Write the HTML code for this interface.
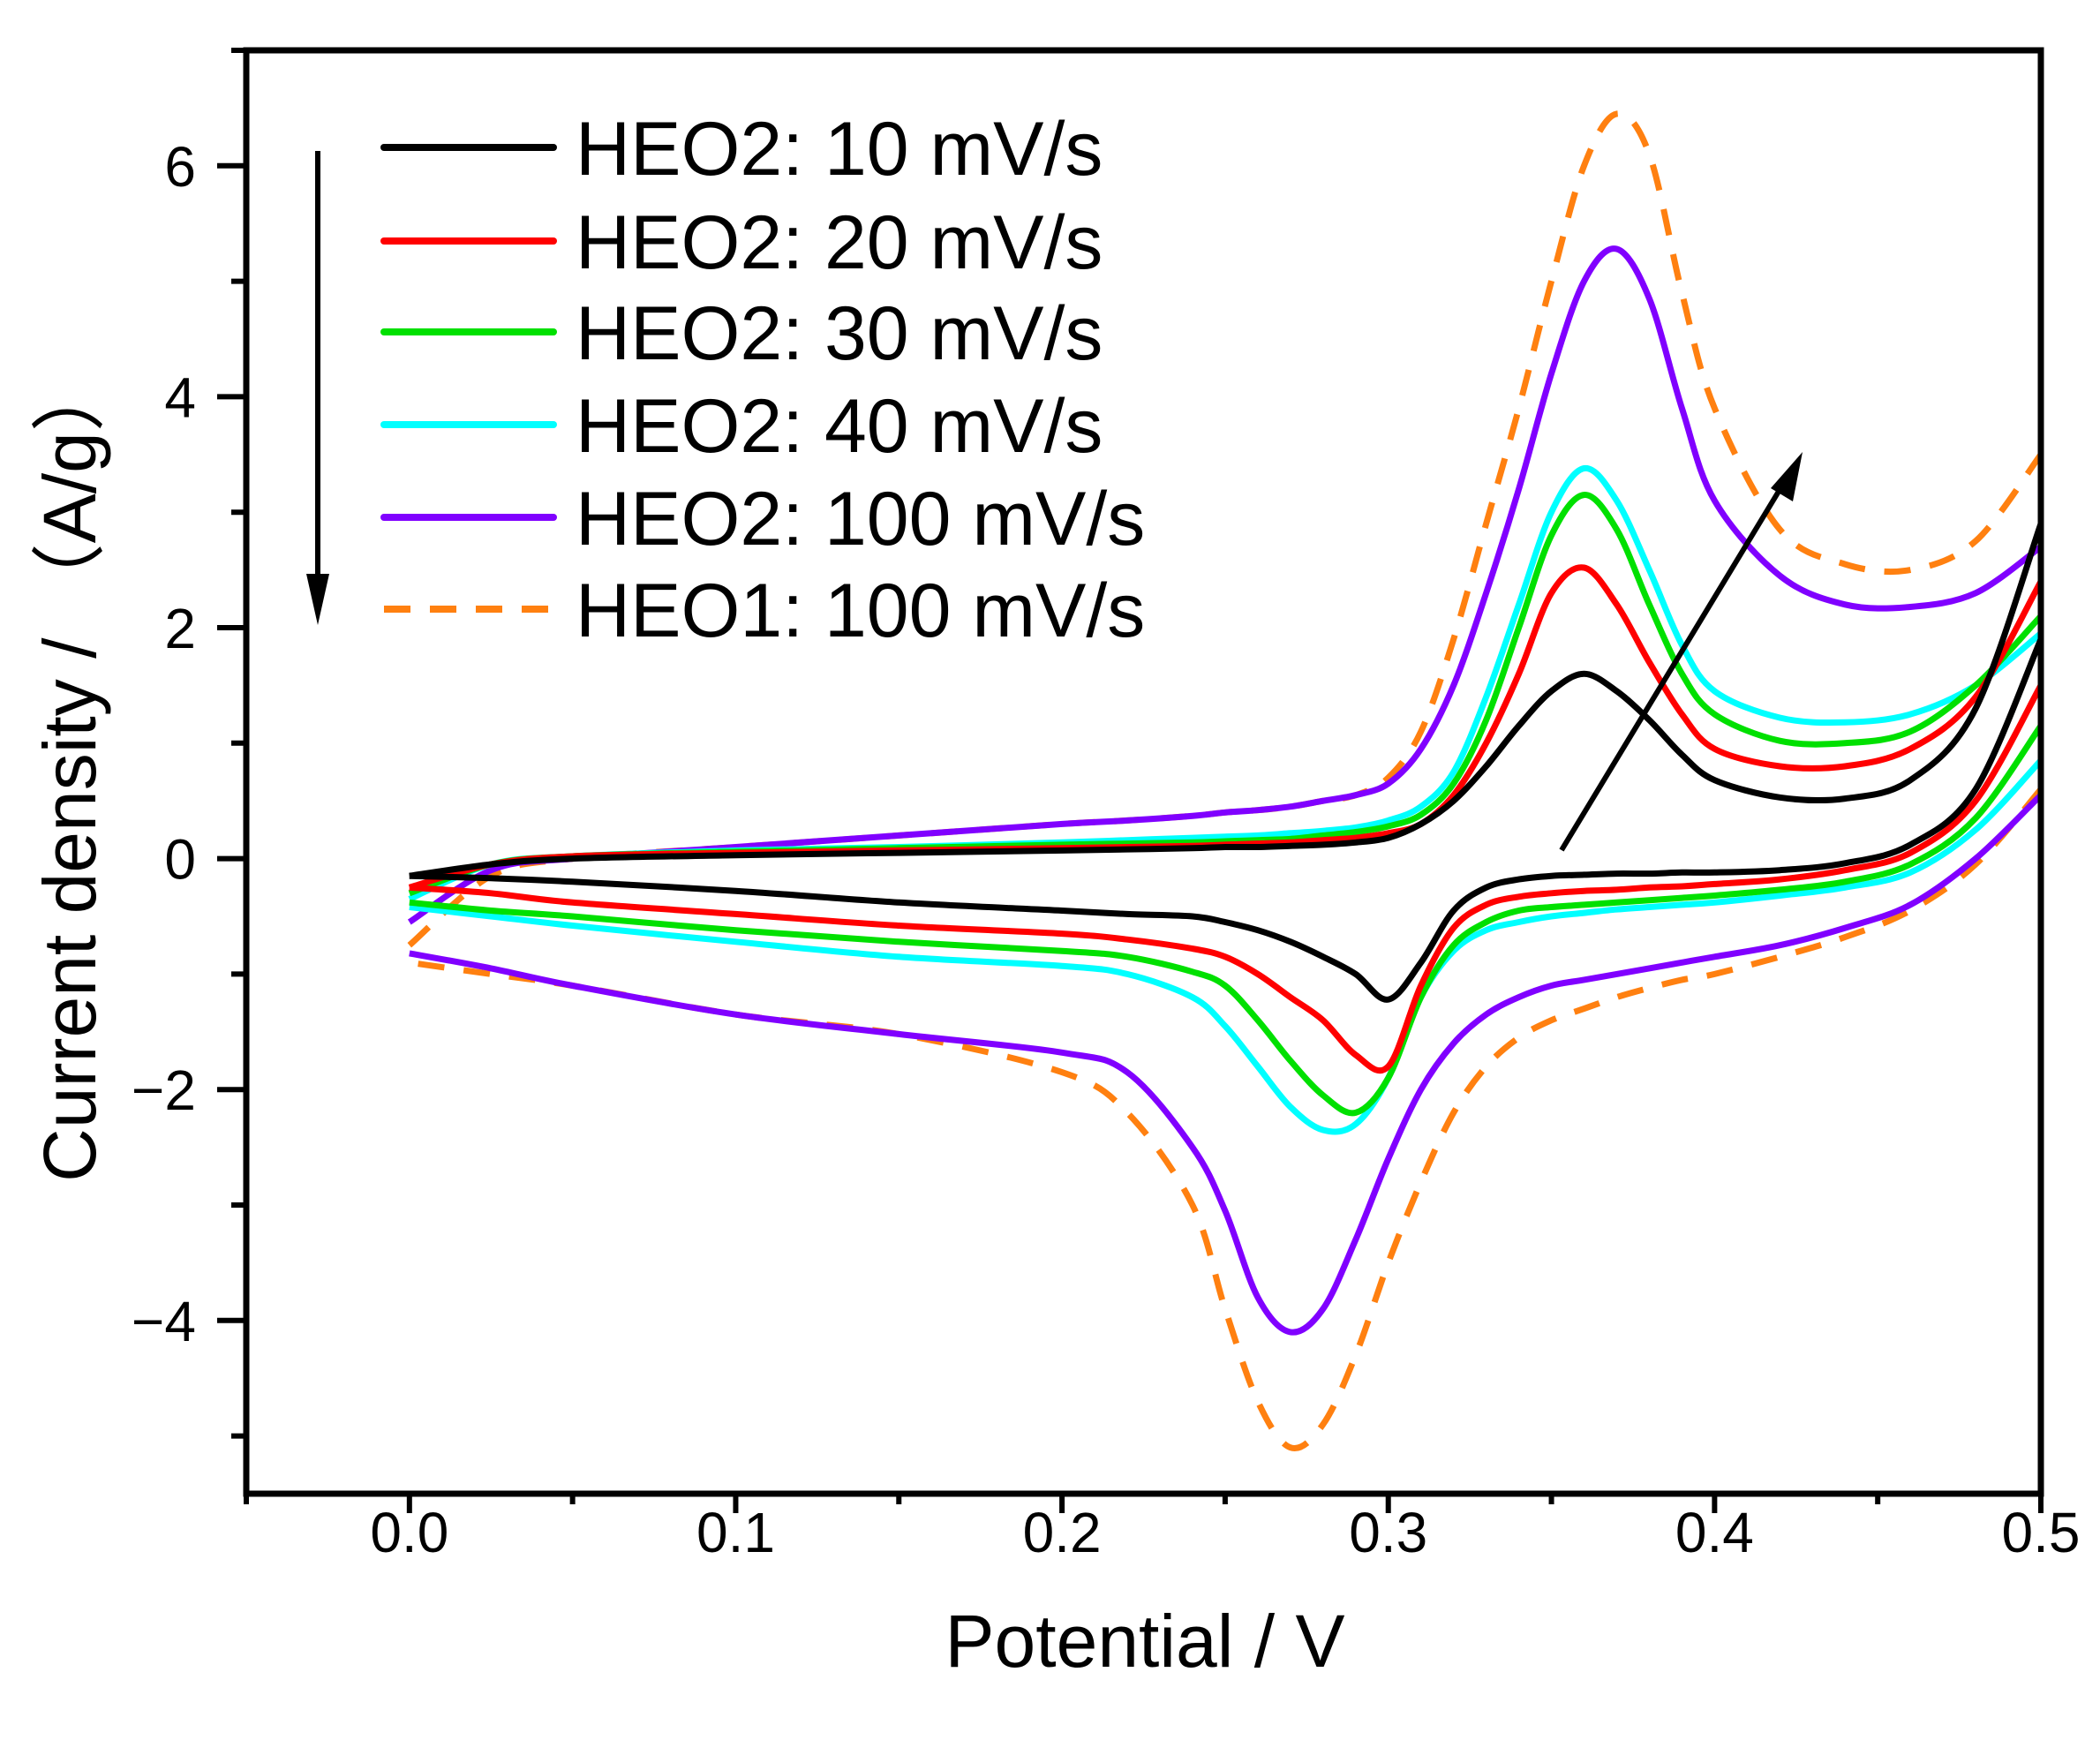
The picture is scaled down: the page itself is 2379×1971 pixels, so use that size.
<!DOCTYPE html>
<html><head><meta charset="utf-8"><style>
html,body{margin:0;padding:0;background:#fff}
svg{display:block}
text{font-family:"Liberation Sans",Arial,sans-serif;fill:#000}
</style></head><body>
<svg id="chart" width="2379" height="1971" viewBox="0 0 2379 1971" xmlns="http://www.w3.org/2000/svg">
<g id="plot"></g>
<g id="axes"></g>
<g id="legend"></g>
</svg>
<script>
const potentials=[0,0.025,0.05,0.1,0.15,0.2,0.22,0.24,0.25,0.26,0.27,0.28,0.29,0.3,0.31,0.32,0.33,0.34,0.35,0.36,0.37,0.38,0.39,0.4,0.42,0.44,0.46,0.48,0.5];
const seriesNames=["HEO2: 10 mV/s","HEO2: 20 mV/s","HEO2: 30 mV/s","HEO2: 40 mV/s","HEO2: 100 mV/s","HEO1: 100 mV/s"];
const seriesColors=["#000000","#ff0000","#00e000","#00ffff","#8000ff","#ff8010"];
const upper10=[-0.15,-0.05,0,0.03,0.05,0.07,0.08,0.09,0.1,0.1,0.11,0.12,0.14,0.18,0.3,0.5,0.8,1.15,1.45,1.6,1.45,1.2,0.9,0.68,0.53,0.52,0.68,1.3,2.9];
const upper20=[-0.25,-0.05,0.02,0.05,0.07,0.09,0.1,0.11,0.12,0.13,0.14,0.16,0.18,0.22,0.3,0.55,1.0,1.6,2.3,2.52,2.2,1.7,1.25,0.95,0.8,0.8,0.95,1.4,2.4];
const upper30=[-0.3,-0.05,0.02,0.06,0.09,0.12,0.13,0.14,0.15,0.16,0.17,0.2,0.23,0.28,0.38,0.65,1.2,2.0,2.8,3.15,2.85,2.2,1.6,1.25,1.02,1.0,1.1,1.5,2.1];
const upper40=[-0.35,-0.05,0.02,0.07,0.1,0.14,0.16,0.18,0.19,0.2,0.22,0.24,0.27,0.33,0.45,0.75,1.4,2.2,3.0,3.38,3.1,2.5,1.85,1.45,1.22,1.18,1.25,1.5,1.95];
const upper100=[-0.55,-0.1,0.0,0.1,0.2,0.3,0.33,0.37,0.4,0.42,0.45,0.5,0.55,0.65,0.95,1.5,2.3,3.2,4.2,5.0,5.28,4.85,3.9,3.1,2.45,2.2,2.18,2.3,2.7];
const upperHEO1=[-0.75,-0.15,0.0,0.1,0.2,0.3,0.33,0.37,0.4,0.42,0.45,0.5,0.55,0.7,1.1,1.9,2.9,3.9,5.0,6.0,6.45,6.1,4.9,3.9,2.85,2.55,2.5,2.75,3.5];
const lower10=[-0.15,-0.17,-0.2,-0.28,-0.38,-0.45,-0.48,-0.5,-0.55,-0.62,-0.72,-0.85,-1.0,-1.22,-0.9,-0.45,-0.25,-0.18,-0.15,-0.14,-0.13,-0.13,-0.12,-0.12,-0.1,-0.04,0.12,0.6,1.9];
const lower20=[-0.25,-0.3,-0.38,-0.48,-0.58,-0.65,-0.7,-0.78,-0.85,-1.0,-1.2,-1.4,-1.7,-1.8,-1.1,-0.6,-0.4,-0.33,-0.3,-0.28,-0.27,-0.25,-0.24,-0.22,-0.18,-0.1,0.05,0.5,1.5];
const lower30=[-0.38,-0.45,-0.5,-0.62,-0.72,-0.8,-0.85,-0.98,-1.1,-1.4,-1.75,-2.05,-2.2,-1.9,-1.2,-0.75,-0.55,-0.45,-0.42,-0.4,-0.38,-0.36,-0.34,-0.32,-0.27,-0.2,-0.05,0.35,1.15];
const lower40=[-0.42,-0.5,-0.58,-0.72,-0.85,-0.93,-1.0,-1.2,-1.45,-1.8,-2.15,-2.35,-2.3,-1.9,-1.2,-0.8,-0.62,-0.55,-0.5,-0.47,-0.44,-0.42,-0.4,-0.38,-0.32,-0.25,-0.12,0.25,0.85];
const lower100=[-0.82,-0.95,-1.1,-1.35,-1.52,-1.68,-1.85,-2.5,-3.05,-3.8,-4.1,-3.9,-3.3,-2.6,-2.0,-1.6,-1.35,-1.2,-1.1,-1.05,-1.0,-0.95,-0.9,-0.85,-0.75,-0.6,-0.4,0.0,0.55];
const lowerHEO1=[-0.9,-1.0,-1.1,-1.35,-1.52,-1.85,-2.2,-3.0,-3.9,-4.7,-5.1,-4.9,-4.3,-3.5,-2.8,-2.2,-1.8,-1.55,-1.4,-1.3,-1.2,-1.12,-1.05,-1.0,-0.85,-0.68,-0.45,-0.05,0.6];
const xTicks=[0.0,0.1,0.2,0.3,0.4,0.5];
const xTickLabels=["0.0","0.1","0.2","0.3","0.4","0.5"];
const yTicks=[-4,-2,0,2,4,6];
const yTickLabels=["\u22124","\u22122","0","2","4","6"];

const NS="http://www.w3.org/2000/svg";
const X0=279,X1=2312,Y0=57,Y1=1692;
const xmin=-0.05,xmax=0.5,ymin=-5.5,ymax=7;
const xs=v=>X0+(v-xmin)/(xmax-xmin)*(X1-X0);
const ys=v=>Y1-(v-ymin)/(ymax-ymin)*(Y1-Y0);
function mk(tag,attrs,parent){const e=document.createElementNS(NS,tag);for(const k in attrs)e.setAttribute(k,attrs[k]);parent.appendChild(e);return e;}
function smooth(pts){let d="M"+pts[0][0].toFixed(1)+","+pts[0][1].toFixed(1);
 for(let i=0;i<pts.length-1;i++){const p0=pts[Math.max(0,i-1)],p1=pts[i],p2=pts[i+1],p3=pts[Math.min(pts.length-1,i+2)];
 const c1=[p1[0]+(p2[0]-p0[0])/6,p1[1]+(p2[1]-p0[1])/6],c2=[p2[0]-(p3[0]-p1[0])/6,p2[1]-(p3[1]-p1[1])/6];
 d+="C"+c1[0].toFixed(1)+","+c1[1].toFixed(1)+" "+c2[0].toFixed(1)+","+c2[1].toFixed(1)+" "+p2[0].toFixed(1)+","+p2[1].toFixed(1);}
 return d;}
const plot=document.getElementById('plot'),axes=document.getElementById('axes'),legend=document.getElementById('legend');
const uppers=[upper10,upper20,upper30,upper40,upper100,upperHEO1];
const lowers=[lower10,lower20,lower30,lower40,lower100,lowerHEO1];
const order=[5,4,3,2,1,0];
order.forEach(i=>{
 const up=potentials.map((e,k)=>[xs(e),ys(uppers[i][k])]);
 const lo=potentials.map((e,k)=>[xs(e),ys(lowers[i][k])]).reverse();
 const a={d:smooth(up),fill:"none",stroke:seriesColors[i],"stroke-width":7,"stroke-linejoin":"round"};
 if(i===5)a["stroke-dasharray"]="30,22";
 const p1=mk('path',a,plot);
 
 
 a.d=smooth(lo);
 const p2=mk('path',a,plot);
 
 
});
const fr=mk('rect',{x:X0,y:Y0,width:X1-X0,height:Y1-Y0,fill:"none",stroke:"#000","stroke-width":7},axes);


for(let v=-0.05;v<=0.5001;v+=0.05){const x=xs(v);const major=Math.abs(Math.round(v*10)-v*10)<1e-6;
 const t=mk('line',{x1:x,x2:x,y1:Y1,y2:Y1+(major?22:12),stroke:"#000","stroke-width":6},axes);
 
 }
xTicks.forEach((v,i)=>{const t=mk('text',{x:xs(v),y:1758,"font-size":64,"text-anchor":"middle"},axes);t.textContent=xTickLabels[i];
 
 });
for(let v=-5;v<=7;v+=1){const major=v%2===0;
 const t=mk('line',{x1:X0,x2:X0-(major?33:17),y1:ys(v),y2:ys(v),stroke:"#000","stroke-width":6},axes);
 
 }
yTicks.forEach((v,i)=>{const t=mk('text',{x:222,y:ys(v)+23,"font-size":64,"text-anchor":"end"},axes);t.textContent=yTickLabels[i];
 
 });
const xt=mk('text',{x:1297,y:1888,"font-size":84,"text-anchor":"middle"},axes);xt.textContent="Potential / V";


const yt=mk('text',{x:0,y:0,"font-size":84,"text-anchor":"middle",transform:"translate(108,872) rotate(-90)"},axes);
yt.style.fontFamily='"Liberation Sans","Noto Sans CJK SC",sans-serif';
yt.textContent="Current density / \uFF08A/g\uFF09";


const rowY=[167,273,376,481,586,690];
seriesNames.forEach((n,i)=>{
 const a={x1:435,x2:627,y1:rowY[i],y2:rowY[i],stroke:seriesColors[i],"stroke-width":8,"stroke-linecap":"round"};
 if(i===5){a["stroke-dasharray"]="30,22";a["stroke-linecap"]="butt";}
 const l=mk('line',a,legend);
 
 
 const t=mk('text',{x:652,y:rowY[i]+31,"font-size":86},legend);t.textContent=n;
 
 
});
const ar1=mk('line',{x1:360,y1:171,x2:360,y2:660,stroke:"#000","stroke-width":6},axes);


const ah1=mk('polygon',{points:"347,650 373,650 360,708",fill:"#000"},axes);


const ar2=mk('line',{x1:1769,y1:963,x2:2022,y2:545,stroke:"#000","stroke-width":6},axes);


const ah2=mk('polygon',{points:"2042,512 2031,568 2006,553",fill:"#000"},axes);


</script>
</body></html>
